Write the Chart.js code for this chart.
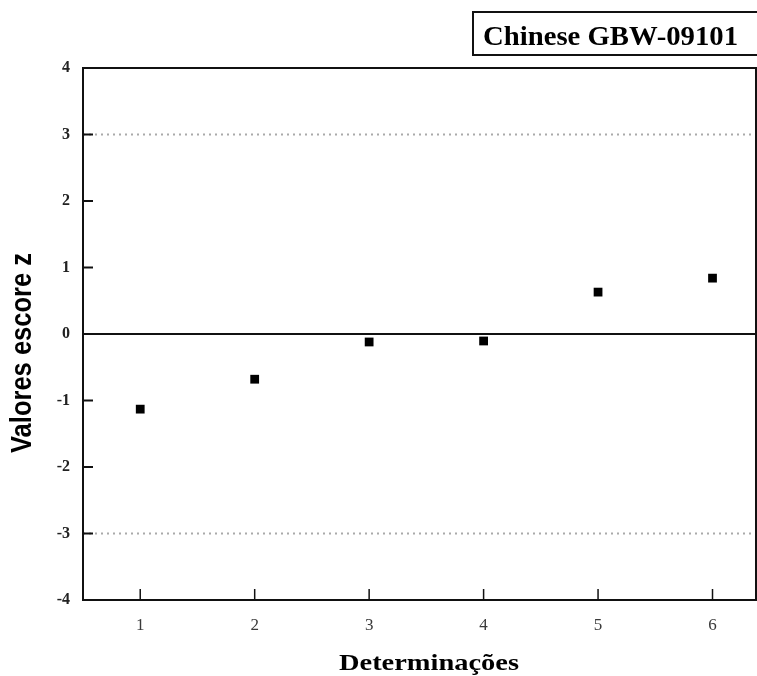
<!DOCTYPE html>
<html>
<head>
<meta charset="utf-8">
<script src="https://cdn.jsdelivr.net/npm/chart.js@4.4.1/dist/chart.umd.min.js"></script>
<style>
  html, body { margin: 0; padding: 0; background: #fff; overflow: hidden; }
  #wrap { position: relative; width: 757px; height: 676px; }
</style>
</head>
<body>
<div id="wrap"><canvas id="c" width="757" height="676"></canvas></div>
<script>
// ---- data ----
const categories = [1, 2, 3, 4, 5, 6];
const zScores = [-1.13, -0.68, -0.12, -0.105, 0.63, 0.84];
const yTicks = [-4, -3, -2, -1, 0, 1, 2, 3, 4];
const xTicks = [1, 2, 3, 4, 5, 6];
const limitLines = [3, -3];
const centerLine = [0];
const xRange = [0.5, 6.38];
const yRange = [-4, 4];
const chartTitle = "Chinese GBW-09101";
const xTitle = "Determinações";
const yTitle = "Valores escore z";

const points = categories.map((c, i) => ({ x: c, y: zScores[i] }));
const hLine = v => [{ x: xRange[0], y: v }, { x: xRange[1], y: v }];

const framePlugin = {
  id: 'frame',
  afterDatasetsDraw(chart) {
    const { ctx, chartArea: a, scales } = chart;
    ctx.save();
    ctx.strokeStyle = '#111';
    ctx.lineWidth = 2;
    ctx.strokeRect(a.left, a.top, a.right - a.left, a.bottom - a.top);
    ctx.lineWidth = 2;
    yTicks.forEach(v => {
      const y = scales.y.getPixelForValue(v);
      ctx.beginPath(); ctx.moveTo(a.left, y); ctx.lineTo(a.left + 10, y); ctx.stroke();
    });
    ctx.lineWidth = 1.5;
    xTicks.forEach(v => {
      const x = scales.x.getPixelForValue(v);
      ctx.beginPath(); ctx.moveTo(x, a.bottom); ctx.lineTo(x, a.bottom - 11); ctx.stroke();
    });
    // title box
    ctx.lineWidth = 2;
    ctx.strokeRect(473, 12, 320, 43);
    ctx.fillStyle = '#000';
    ctx.textBaseline = 'alphabetic';
    ctx.font = 'bold 27px "Liberation Serif", "Times New Roman", serif';
    let w = ctx.measureText(chartTitle).width;
    ctx.save();
    ctx.translate(483, 45);
    ctx.scale(255 / w, 1);
    ctx.fillText(chartTitle, 0, 0);
    ctx.restore();
    // x title
    ctx.font = 'bold 24px "Liberation Serif", "Times New Roman", serif';
    w = ctx.measureText(xTitle).width;
    ctx.save();
    ctx.translate(429, 670);
    ctx.scale(180 / w, 1);
    ctx.textAlign = 'center';
    ctx.fillText(xTitle, 0, 0);
    ctx.restore();
    // y title
    ctx.font = 'bold 29px "Liberation Sans", Arial, sans-serif';
    w = ctx.measureText(yTitle).width;
    ctx.save();
    ctx.translate(23, 353);
    ctx.rotate(-Math.PI / 2);
    ctx.scale(200 / w, 1);
    ctx.textAlign = 'center';
    ctx.textBaseline = 'middle';
    ctx.fillText(yTitle, 0, 0);
    ctx.restore();
    ctx.restore();
  }
};

new Chart(document.getElementById('c'), {
  type: 'scatter',
  data: {
    datasets: [
      {
        data: hLine(centerLine[0]), type: 'line', showLine: true,
        borderColor: '#111', borderWidth: 2, pointRadius: 0, fill: false
      },
      {
        data: hLine(limitLines[0]), type: 'line', showLine: true,
        borderColor: '#aaaaaa', borderWidth: 2, borderDash: [2, 4], pointRadius: 0, fill: false
      },
      {
        data: hLine(limitLines[1]), type: 'line', showLine: true,
        borderColor: '#aaaaaa', borderWidth: 2, borderDash: [2, 4], pointRadius: 0, fill: false
      },
      {
        data: points, pointStyle: 'rect', pointRadius: 6.2,
        backgroundColor: '#000', borderColor: '#000', borderWidth: 0
      }
    ]
  },
  options: {
    responsive: false,
    animation: false,
    events: [],
    layout: { autoPadding: false, padding: { top: 68, right: 1, left: 0, bottom: 0 } },
    plugins: { legend: { display: false }, tooltip: { enabled: false }, title: { display: false } },
    scales: {
      x: {
        type: 'linear', min: xRange[0], max: xRange[1],
        afterBuildTicks: s => { s.ticks = xTicks.map(v => ({ value: v })); },
        afterFit: s => { s.height = 76; s.paddingRight = 0; s.paddingLeft = 0; },
        grid: { display: false, drawTicks: false },
        border: { display: false },
        ticks: {
          padding: 15, color: '#3a3a3a',
          font: { family: '"Liberation Serif", "Times New Roman", serif', size: 17 }
        }
      },
      y: {
        type: 'linear', min: yRange[0], max: yRange[1],
        afterBuildTicks: s => { s.ticks = yTicks.map(v => ({ value: v })); },
        afterFit: s => { s.width = 83; },
        grid: { display: false, drawTicks: false },
        border: { display: false },
        ticks: {
          padding: 13, color: '#222',
          font: { family: '"Liberation Serif", "Times New Roman", serif', size: 16, weight: 'bold' }
        }
      }
    }
  },
  plugins: [framePlugin]
});
</script>
</body>
</html>
